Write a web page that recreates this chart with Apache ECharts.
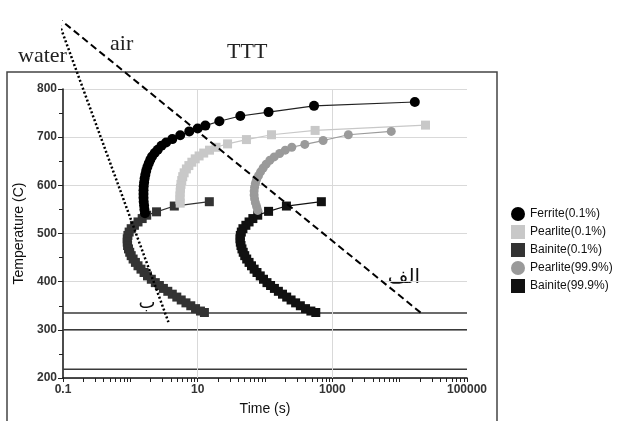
<!DOCTYPE html>
<html>
<head>
<meta charset="utf-8">
<script src="https://cdn.jsdelivr.net/npm/echarts@6/dist/echarts.min.js"></script>
<style>
html,body{margin:0;padding:0;background:#fff}
#main{width:617px;height:421px}
</style>
</head>
<body>
<div id="main"></div>
<script>
// [time (s), temperature (C)]
var ferrite01 = [[1.65,542],[1.62,550],[1.60,558],[1.58,566],[1.57,574],[1.57,582],[1.57,590],[1.58,598],[1.60,606],[1.63,614],[1.67,622],[1.72,630],[1.79,638],[1.88,646],[1.98,653],[2.1,660],[2.3,667],[2.55,674],[2.9,682],[3.4,689],[4.2,696],[5.5,704],[7.5,712],[10,718],[13,724],[21,733],[43,744],[113,752],[535,765],[16800,773]];
var pearlite01 = [[5.5,563],[5.45,570],[5.45,578],[5.5,586],[5.55,594],[5.65,602],[5.8,610],[6.0,618],[6.3,626],[6.8,634],[7.4,641],[8.2,648],[9.2,655],[10.5,661],[12.3,667],[15,673],[18.7,679],[27.8,686],[53,695],[125,705],[555,714],[24200,725]];
var bainite01 = [[14.9,566],[4.5,557],[2.45,545],[1.75,538],[1.5,531],[1.3,524],[1.15,517],[1.03,510],[0.96,503],[0.92,496],[0.9,489],[0.9,482],[0.91,475],[0.94,468],[0.98,461],[1.03,454],[1.1,447],[1.19,440],[1.3,433],[1.44,426],[1.6,419],[1.8,412],[2.05,405],[2.35,398],[2.7,392],[3.1,386],[3.6,380],[4.2,374],[4.9,368],[5.7,362],[6.7,356],[7.9,350],[9.3,344],[11,339],[12.6,336]];
var pearlite999 = [[78,548],[75,556],[72,564],[70,572],[69,580],[69,588],[70,596],[72,604],[75,612],[80,620],[86,628],[94,636],[104,644],[118,652],[137,659],[165,666],[200,673],[250,679],[390,685],[730,693],[1730,705],[7500,712]];
var bainite999 = [[687,566],[208,557],[113,546],[78,538],[66,531],[58,524],[52,517],[47,510],[44.5,503],[43,496],[42.5,489],[43,482],[44,475],[45.5,468],[47.5,461],[50,454],[53.5,447],[58,440],[63,433],[69,426],[76,419],[85,412],[95,405],[107,398],[121,392],[138,386],[158,380],[182,374],[210,368],[244,362],[285,356],[335,350],[400,344],[480,339],[568,336]];

// cooling lines
var waterLine = [[0.0806,950],[3.68,316]];
var airLine = [[0.0806,950],[22080,332]];

// horizontal levels and vertical grid
var levels = [335, 300, 218];
var gridTimes = [10, 1000];

var xLabelValues = [0.1, 10, 1000, 100000];
var xTickValues = [];
var decades = [0.1, 1, 10, 100, 1000, 10000];
for (var i = 0; i < decades.length; i++) {
	for (var k = 1; k < 10; k++) {
		xTickValues.push(decades[i] * k);
	}
}
xTickValues.push(100000);

function curve(name, data, color, symbol, size, lineColor) {
	return {
		name: name,
		type: 'line',
		data: data,
		symbol: symbol,
		symbolSize: size,
		itemStyle: {color: color},
		lineStyle: {color: lineColor || color, width: 1.2},
		z: 5
	};
}

var levelSeries = [];
for (var i = 0; i < levels.length; i++) {
	levelSeries.push({
		name: 'level' + i,
		type: 'line',
		data: [[0.1, levels[i]], [100000, levels[i]]],
		symbol: 'none',
		lineStyle: {color: '#3a3a3a', width: 1.5},
		z: 3,
		silent: true
	});
}

var vGrid = [];
for (var i = 0; i < gridTimes.length; i++) {
	vGrid.push({xAxis: gridTimes[i]});
}

var series = [
	{
		name: 'vgrid',
		type: 'line',
		data: [],
		markLine: {
			silent: true,
			symbol: 'none',
			label: {show: false},
			lineStyle: {color: '#d9d9d9', width: 1, type: 'solid'},
			data: vGrid
		}
	},
	curve('Bainite(0.1%)', bainite01, '#333333', 'rect', 9),
	curve('Bainite(99.9%)', bainite999, '#111111', 'rect', 9),
	curve('Pearlite(0.1%)', pearlite01, '#c8c8c8', 'rect', 9),
	curve('Pearlite(99.9%)', pearlite999, '#9a9a9a', 'circle', 9),
	curve('Ferrite(0.1%)', ferrite01, '#000000', 'circle', 10, '#222222'),
	{
		name: 'water',
		type: 'line',
		data: waterLine,
		symbol: 'none',
		clip: false,
		lineStyle: {color: '#000', width: 2.5, type: [2, 2.2]},
		z: 6,
		silent: true
	},
	{
		name: 'air',
		type: 'line',
		data: airLine,
		symbol: 'none',
		clip: false,
		lineStyle: {color: '#000', width: 2, type: [7, 4]},
		z: 6,
		silent: true
	}
].concat(levelSeries);

var chart = echarts.init(document.getElementById('main'));
var option = {
	animation: false,
	backgroundColor: '#fff',
	grid: {left: 63, right: 150, top: 89, bottom: 39},
	legend: {
		data: [
			{name: 'Ferrite(0.1%)', icon: 'circle'},
			{name: 'Pearlite(0.1%)', icon: 'rect'},
			{name: 'Bainite(0.1%)', icon: 'rect'},
			{name: 'Pearlite(99.9%)', icon: 'circle'},
			{name: 'Bainite(99.9%)', icon: 'rect'}
		],
		orient: 'vertical',
		left: 506,
		top: 202,
		padding: 5,
		itemWidth: 14,
		itemHeight: 14,
		itemGap: 4,
		selectedMode: false,
		textStyle: {fontFamily: 'Liberation Sans', fontSize: 12, color: '#111'}
	},
	xAxis: {
		type: 'log',
		logBase: 10,
		min: 0.1,
		max: 100000,
		name: 'Time (s)',
		nameLocation: 'middle',
		nameGap: 24,
		nameTextStyle: {fontFamily: 'Liberation Sans', fontSize: 14, color: '#111'},
		axisLine: {lineStyle: {color: '#111', width: 1.5}},
		axisTick: {show: true, customValues: xTickValues, length: 4, lineStyle: {color: '#222'}},
		axisLabel: {
			customValues: xLabelValues,
			fontFamily: 'Liberation Sans', fontSize: 12, fontWeight: 'bold', color: '#333', margin: 6,
			formatter: function (v) { return v < 1 ? '0.1' : String(Math.round(v)); }
		},
		splitLine: {show: false},
		minorTick: {show: false}
	},
	yAxis: {
		type: 'value',
		min: 200,
		max: 800,
		interval: 100,
		name: 'Temperature (C)',
		nameLocation: 'middle',
		nameGap: 34,
		nameTextStyle: {fontFamily: 'Liberation Sans', fontSize: 14, color: '#111'},
		axisLine: {show: true, lineStyle: {color: '#111', width: 1.5}},
		axisTick: {show: true, length: 5, lineStyle: {color: '#222'}},
		minorTick: {show: true, splitNumber: 2, length: 4, lineStyle: {color: '#222'}},
		axisLabel: {fontFamily: 'Liberation Sans', fontSize: 12, fontWeight: 'bold', color: '#333', margin: 6},
		splitLine: {show: true, lineStyle: {color: '#d9d9d9', width: 1}}
	},
	graphic: [
		{type: 'rect', shape: {x: 7, y: 72, width: 490, height: 380}, style: {fill: 'none', stroke: '#444', lineWidth: 1.5}, silent: true},
		{type: 'text', x: 18, y: 45, style: {text: 'water', font: '22px "Liberation Serif"', fill: '#222'}},
		{type: 'text', x: 110, y: 33, style: {text: 'air', font: '22px "Liberation Serif"', fill: '#222'}},
		{type: 'text', x: 227, y: 41, style: {text: 'TTT', font: '22px "Liberation Serif"', fill: '#222'}},
		{type: 'text', x: 404, y: 278, style: {text: 'الف', font: '20px "DejaVu Sans"', fill: '#111', align: 'center', verticalAlign: 'middle'}},
		{type: 'text', x: 147, y: 303, style: {text: 'ب', font: '18px "DejaVu Sans"', fill: '#111', align: 'center', verticalAlign: 'middle'}}
	],
	series: series
};
chart.setOption(option);
</script>
</body>
</html>
